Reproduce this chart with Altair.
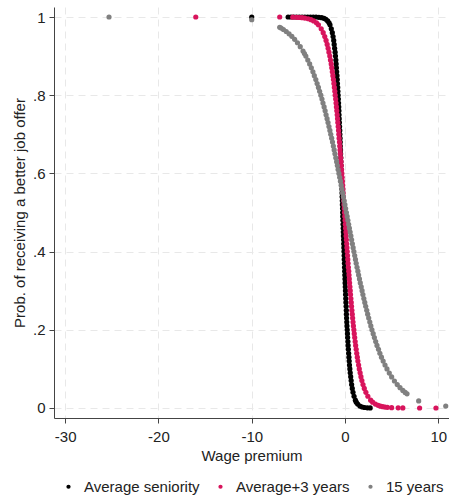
import altair as alt
import pandas as pd

SERIES = ["Average seniority", "Average+3 years", "15 years"]
COLORS = ["#000000", "#d8145c", "#808080"]

X_TICKS = [-30, -20, -10, 0, 10]
Y_TICKS = [0, 0.2, 0.4, 0.6, 0.8, 1]

# common probability grid for the steep parts
STEEP_Y = [0.98, 0.97, 0.96, 0.95, 0.94, 0.93, 0.92, 0.91, 0.90,
           0.89, 0.88, 0.87, 0.86, 0.85, 0.84, 0.83, 0.82, 0.81, 0.80,
           0.79, 0.78, 0.77, 0.76, 0.75, 0.74, 0.73, 0.72, 0.71, 0.70,
           0.69, 0.68, 0.67, 0.66, 0.65, 0.64, 0.63, 0.62, 0.61, 0.60,
           0.59, 0.58, 0.57, 0.56, 0.55, 0.54, 0.53, 0.52, 0.51, 0.50,
           0.49, 0.48, 0.47, 0.46, 0.45, 0.44, 0.43, 0.42, 0.41, 0.40,
           0.39, 0.38, 0.37, 0.36, 0.35, 0.34, 0.33, 0.32, 0.31, 0.30,
           0.29, 0.28, 0.27, 0.26, 0.25, 0.24, 0.23, 0.22, 0.21, 0.20,
           0.19, 0.18, 0.17, 0.16, 0.15, 0.14, 0.13, 0.12, 0.11, 0.10,
           0.09, 0.08, 0.07, 0.06, 0.05, 0.04, 0.03, 0.02]

# Average seniority (black)
BLACK_STEEP_X = [-1.61, -1.47, -1.36, -1.28, -1.21, -1.16, -1.11, -1.06, -1.02,
                 -0.98, -0.95, -0.92, -0.89, -0.86, -0.83, -0.81, -0.78, -0.76, -0.74,
                 -0.71, -0.69, -0.67, -0.65, -0.64, -0.62, -0.60, -0.58, -0.56, -0.55,
                 -0.53, -0.51, -0.50, -0.48, -0.47, -0.45, -0.44, -0.42, -0.41, -0.39,
                 -0.38, -0.36, -0.35, -0.33, -0.32, -0.31, -0.29, -0.28, -0.26, -0.25,
                 -0.24, -0.22, -0.21, -0.19, -0.18, -0.17, -0.15, -0.14, -0.12, -0.11,
                 -0.09, -0.08, -0.06, -0.05, -0.03, -0.02, 0.00, 0.01, 0.03, 0.05,
                 0.06, 0.08, 0.10, 0.12, 0.14, 0.15, 0.17, 0.19, 0.21, 0.24,
                 0.26, 0.28, 0.31, 0.33, 0.36, 0.39, 0.42, 0.45, 0.48, 0.52,
                 0.56, 0.61, 0.66, 0.71, 0.78, 0.86, 0.97, 1.11]
BLACK_TOP_X = [-10.0, -6.1, -5.8, -5.5, -5.2, -4.9, -4.6, -4.3, -4.0, -3.7, -3.4, -3.1,
               -2.8, -2.5, -2.25, -2.05, -1.86, -1.71]
BLACK_TOP_Y = [1.0, 1.0, 1.0, 1.0, 1.0, 1.0, 1.0, 1.0, 1.0, 1.0, 1.0, 1.0,
               0.9993, 0.9984, 0.9967, 0.9942, 0.99, 0.985]
BLACK_LOW_X = [1.21, 1.36, 1.6, 1.85, 2.1, 2.4, 2.7]
BLACK_LOW_Y = [0.015, 0.01, 0.005, 0.0025, 0.0012, 0.0005, 0.0002]

# Average+3 years (red)
RED_STEEP_X = [-2.85, -2.55, -2.34, -2.17, -2.03, -1.91, -1.81, -1.72, -1.63,
               -1.56, -1.48, -1.42, -1.36, -1.30, -1.24, -1.19, -1.14, -1.09, -1.05,
               -1.00, -0.96, -0.92, -0.88, -0.84, -0.80, -0.77, -0.73, -0.69, -0.66,
               -0.63, -0.59, -0.56, -0.53, -0.50, -0.46, -0.43, -0.40, -0.37, -0.34,
               -0.31, -0.28, -0.25, -0.22, -0.20, -0.17, -0.14, -0.11, -0.08, -0.05,
               -0.02, 0.01, 0.04, 0.07, 0.10, 0.12, 0.15, 0.18, 0.21, 0.24,
               0.27, 0.30, 0.33, 0.36, 0.40, 0.43, 0.46, 0.49, 0.53, 0.56,
               0.59, 0.63, 0.67, 0.70, 0.74, 0.78, 0.82, 0.86, 0.90, 0.95,
               0.99, 1.04, 1.09, 1.14, 1.20, 1.26, 1.32, 1.38, 1.46, 1.53,
               1.62, 1.71, 1.81, 1.93, 2.07, 2.24, 2.45, 2.75]
RED_TOP_X = [-16.0, -7.0, -5.6, -5.2, -4.9, -4.6, -4.3, -3.95, -3.65, -3.36, -3.06]
RED_TOP_Y = [1.0, 1.0, 0.9996, 0.9992, 0.9988, 0.9982, 0.9973, 0.9956, 0.9933, 0.99, 0.985]
RED_LOW_X = [2.96, 3.26, 3.55, 3.8, 4.05, 4.3, 4.55, 5.0, 5.7, 6.2, 8.0, 9.75]
RED_LOW_Y = [0.015, 0.01, 0.0067, 0.0047, 0.0034, 0.0024, 0.0017, 0.0009, 0.0004, 0.0002, 0.0, 0.0]

# 15 years (gray), steep part uses STEEP_Y from 0.90 to 0.10
GRAY_STEEP_X = [-4.20,
                -3.99, -3.79, -3.61, -3.44, -3.29, -3.13, -2.99, -2.85, -2.72, -2.59,
                -2.47, -2.36, -2.24, -2.13, -2.03, -1.92, -1.82, -1.72, -1.62, -1.53,
                -1.43, -1.34, -1.25, -1.16, -1.08, -0.99, -0.90, -0.82, -0.74, -0.65,
                -0.57, -0.49, -0.41, -0.33, -0.25, -0.17, -0.09, -0.01, 0.07, 0.15,
                0.23, 0.31, 0.39, 0.47, 0.55, 0.63, 0.71, 0.79, 0.87, 0.95,
                1.04, 1.12, 1.20, 1.29, 1.38, 1.46, 1.55, 1.64, 1.74, 1.83,
                1.92, 2.02, 2.12, 2.22, 2.33, 2.43, 2.54, 2.66, 2.77, 2.89,
                3.02, 3.15, 3.29, 3.43, 3.59, 3.74, 3.91, 4.09, 4.29, 4.50]
GRAY_TOP_X = [-25.3, -10.0, -7.0, -6.85, -6.6, -6.3, -6.0, -5.7, -5.4, -5.1, -4.8, -4.5, -4.35]
GRAY_TOP_Y = [1.0, 0.993, 0.9737, 0.9716, 0.968, 0.9629, 0.9571, 0.9505, 0.9429, 0.9341,
              0.9241, 0.9128, 0.9066]
GRAY_LOW_X = [4.75, 5.0, 5.3, 5.6, 5.9, 6.2, 6.45, 6.65, 7.9, 10.8]
GRAY_LOW_Y = [0.0892, 0.0795, 0.0691, 0.0599, 0.052, 0.045, 0.0398, 0.0362, 0.018, 0.005]

parts = [
    (0, BLACK_TOP_X + BLACK_STEEP_X + BLACK_LOW_X, BLACK_TOP_Y + STEEP_Y + BLACK_LOW_Y),
    (1, RED_TOP_X + RED_STEEP_X + RED_LOW_X, RED_TOP_Y + STEEP_Y + RED_LOW_Y),
    (2, GRAY_TOP_X + GRAY_STEEP_X + GRAY_LOW_X, GRAY_TOP_Y + STEEP_Y[8:89] + GRAY_LOW_Y),
]
rows = []
for idx, xs, ys in parts:
    for x, y in zip(xs, ys):
        rows.append({"series": SERIES[idx], "k": idx, "x": x, "y": y})
df = pd.DataFrame(rows)

FONT = "Liberation Sans"

chart = alt.Chart(df).mark_circle(size=27, opacity=1, clip=True).encode(
    x=alt.X("x:Q",
            scale=alt.Scale(domain=[-31.2, 11.15], nice=False, zero=False),
            axis=alt.Axis(values=X_TICKS, title="Wage premium",
                          labelExpr="'' + datum.value",
                          labelPadding=6, titlePadding=4)),
    y=alt.Y("y:Q",
            scale=alt.Scale(domain=[-0.0256, 1.0256], nice=False, zero=False),
            axis=alt.Axis(values=Y_TICKS, title="Prob. of receiving a better job offer",
                          labelExpr="datum.value == 0 ? '0' : datum.value == 1 ? '1' : replace(format(datum.value, '.1f'), '0.', '.')",
                          labelPadding=4, titlePadding=5)),
    color=alt.Color("series:N",
                    scale=alt.Scale(domain=SERIES, range=COLORS),
                    legend=alt.Legend(orient="none", legendX=7, legendY=472,
                                      direction="horizontal", title=None,
                                      symbolType="circle", symbolSize=18,
                                      symbolStrokeWidth=0,
                                      labelFont=FONT, labelFontSize=15,
                                      labelColor="#222222", labelOffset=8,
                                      columnPadding=13, padding=0)),
    order=alt.Order("k:Q"),
).properties(
    width=395, height=411,
    padding={"left": 54, "top": 7, "right": 0, "bottom": 83},
    autosize=alt.AutoSizeParams(type="none"),
    background="white",
).configure_view(stroke=None).configure_axis(
    labelFont=FONT, titleFont=FONT, labelFontSize=15, titleFontSize=15,
    labelColor="#222222", titleColor="#222222", titleFontWeight="normal",
    domainColor="#444444", tickColor="#444444", tickSize=5,
    gridColor="#e8e8e8", gridDash=[7, 5], gridWidth=1,
)

chart.save("out.html", embed_options={"renderer": "svg", "actions": False})
